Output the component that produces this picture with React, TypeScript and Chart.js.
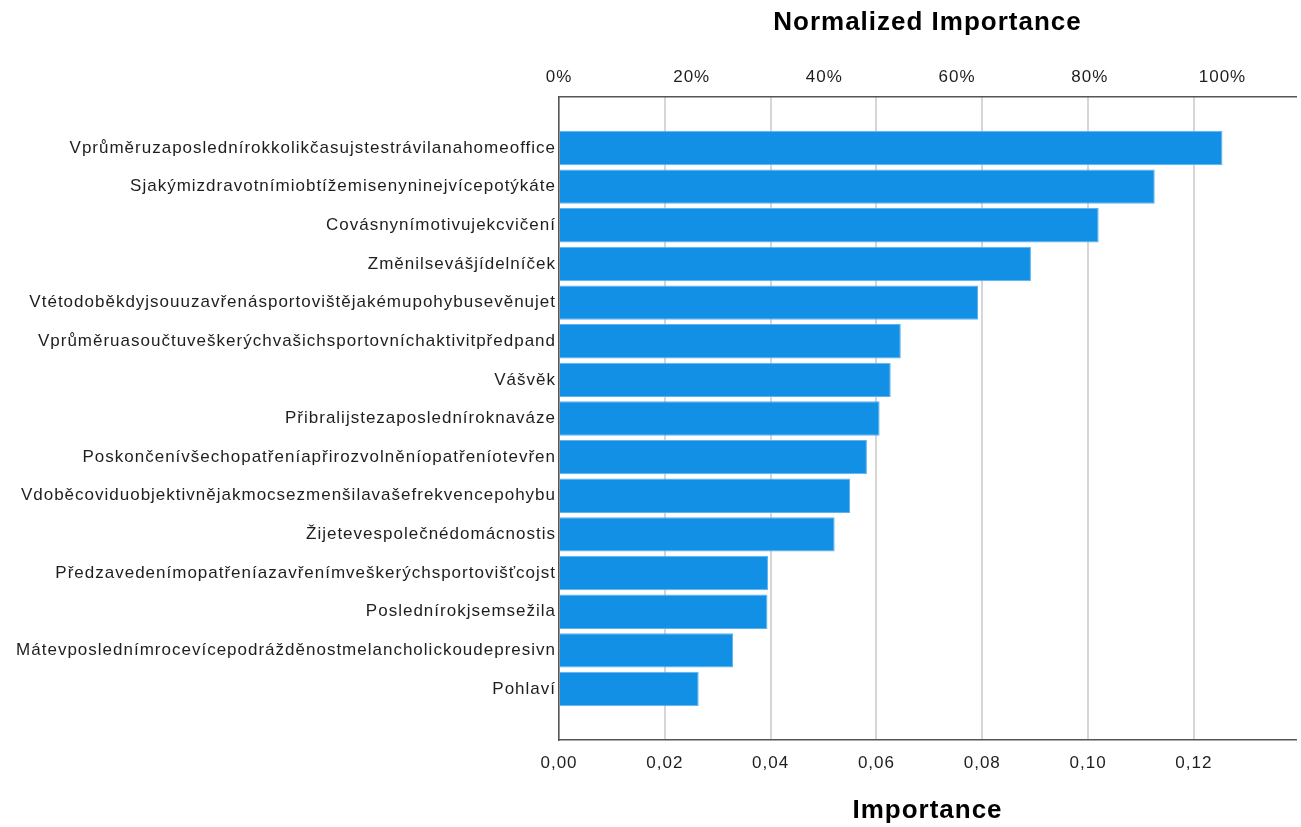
import React, { useEffect, useRef } from "react";
import { Chart, registerables } from "chart.js";

Chart.register(...registerables);

const categories: string[] = [
  "Vprůměruzaposlednírokkolikčasujstestrávilanahomeoffice",
  "Sjakýmizdravotnímiobtížemisenyninejvícepotýkáte",
  "Covásnynímotivujekcvičení",
  "Změnilsevášjídelníček",
  "Vtétodoběkdyjsouuzavřenásportovištějakémupohybusevěnujet",
  "Vprůměruasoučtuveškerýchvašichsportovníchaktivitpředpand",
  "Vášvěk",
  "Přibralijstezaposledníroknaváze",
  "Poskončenívšechopatřeníapřirozvolněníopatřeníotevřen",
  "Vdoběcoviduobjektivnějakmocsezmenšilavašefrekvencepohybu",
  "Žijetevespolečnédomácnostis",
  "Předzavedenímopatřeníazavřenímveškerýchsportovišťcojst",
  "Poslednírokjsemsežila",
  "Mátevposlednímrocevícepodrážděnostmelancholickoudepresivn",
  "Pohlaví",
];

const importance: number[] = [
  0.1254, 0.1126, 0.102, 0.0892, 0.0792, 0.0646, 0.0627, 0.0606, 0.0582,
  0.055, 0.0521, 0.0395, 0.0394, 0.0329, 0.0264,
];

const importanceTicks: number[] = [0, 0.02, 0.04, 0.06, 0.08, 0.1, 0.12];
const normalizedTicks: number[] = [0, 20, 40, 60, 80, 100];

const X_MAX = 0.1393;
const maxImportance = Math.max(...importance);
const X2_MAX = (X_MAX / maxImportance) * 100;
const Y_PAD = 1.32;

const FONT = "'Liberation Sans', Arial, sans-serif";
const AXIS_COLOR = "#555555";
const GRID_COLOR = "#d6d6d6";
const TEXT_COLOR = "#1e1e1e";

const letterSpacingPlugin = {
  id: "letterSpacing",
  beforeDraw(chart: any) {
    try {
      (chart.ctx as any).letterSpacing = "1px";
    } catch (e) {
      /* ignore */
    }
  },
};

export default function App() {
  const canvasRef = useRef<HTMLCanvasElement | null>(null);

  useEffect(() => {
    if (!canvasRef.current) return;
    const data = importance.map((v, i) => ({ x: v, y: i }));
    const chart = new Chart(canvasRef.current, {
      type: "bar",
      data: {
        datasets: [
          {
            data: data as any,
            backgroundColor: "#1290e6",
            borderColor: "#5fb2ee",
            borderWidth: 1,
            categoryPercentage: 1,
            barPercentage: 0.89,
          },
        ],
      },
      plugins: [letterSpacingPlugin],
      options: {
        animation: false,
        responsive: false,
        indexAxis: "y",
        layout: { padding: { left: 0, right: 5, top: 0, bottom: 0 } },
        plugins: {
          legend: { display: false },
          tooltip: { enabled: false },
        },
        scales: {
          y: {
            type: "linear",
            reverse: true,
            offset: false,
            min: -Y_PAD,
            max: categories.length - 1 + Y_PAD,
            grid: { display: false, drawTicks: false, offset: false },
            border: { display: true, color: AXIS_COLOR, width: 1.5 },
            afterBuildTicks: (scale: any) => {
              scale.ticks = categories.map((_, i) => ({ value: i }));
            },
            afterFit: (scale: any) => {
              scale.width = 559;
            },
            ticks: {
              autoSkip: false,
              padding: 3,
              color: TEXT_COLOR,
              font: { family: FONT, size: 17 },
              callback: (_v: any, i: number) => categories[i],
            },
          },
          x: {
            type: "linear",
            position: "bottom",
            offset: false,
            min: 0,
            max: X_MAX,
            grid: {
              color: GRID_COLOR,
              lineWidth: 2,
              drawTicks: false,
            },
            border: { display: true, color: AXIS_COLOR, width: 1.5 },
            afterBuildTicks: (scale: any) => {
              scale.ticks = importanceTicks.map((v) => ({ value: v }));
            },
            afterFit: (scale: any) => {
              scale.height = 87;
            },
            ticks: {
              padding: 13,
              color: TEXT_COLOR,
              font: { family: FONT, size: 17 },
              callback: (v: any) => Number(v).toFixed(2).replace(".", ","),
            },
            title: {
              display: true,
              text: "Importance",
              color: "#000000",
              font: { family: FONT, size: 26, weight: "bold" },
              padding: { top: 0, bottom: 1 },
            },
          },
          x2: {
            type: "linear",
            position: "top",
            offset: false,
            min: 0,
            max: X2_MAX,
            grid: { display: false, drawTicks: false },
            border: { display: true, color: AXIS_COLOR, width: 1.5 },
            afterBuildTicks: (scale: any) => {
              scale.ticks = normalizedTicks.map((v) => ({ value: v }));
            },
            afterFit: (scale: any) => {
              scale.height = 97;
            },
            ticks: {
              padding: 9,
              color: TEXT_COLOR,
              font: { family: FONT, size: 17 },
              callback: (v: any) => `${v}%`,
            },
            title: {
              display: true,
              text: "Normalized Importance",
              color: "#000000",
              font: { family: FONT, size: 26, weight: "bold" },
              padding: { top: 7.5, bottom: 0 },
            },
          },
        },
      } as any,
    });
    return () => chart.destroy();
  }, []);

  return (
    <div
      style={{
        position: "absolute",
        left: 0,
        top: 0,
        width: 1301,
        height: 827,
        background: "#ffffff",
      }}
    >
      <canvas
        ref={canvasRef}
        width={1301}
        height={827}
        style={{ display: "block", width: 1301, height: 827 }}
      />
    </div>
  );
}
